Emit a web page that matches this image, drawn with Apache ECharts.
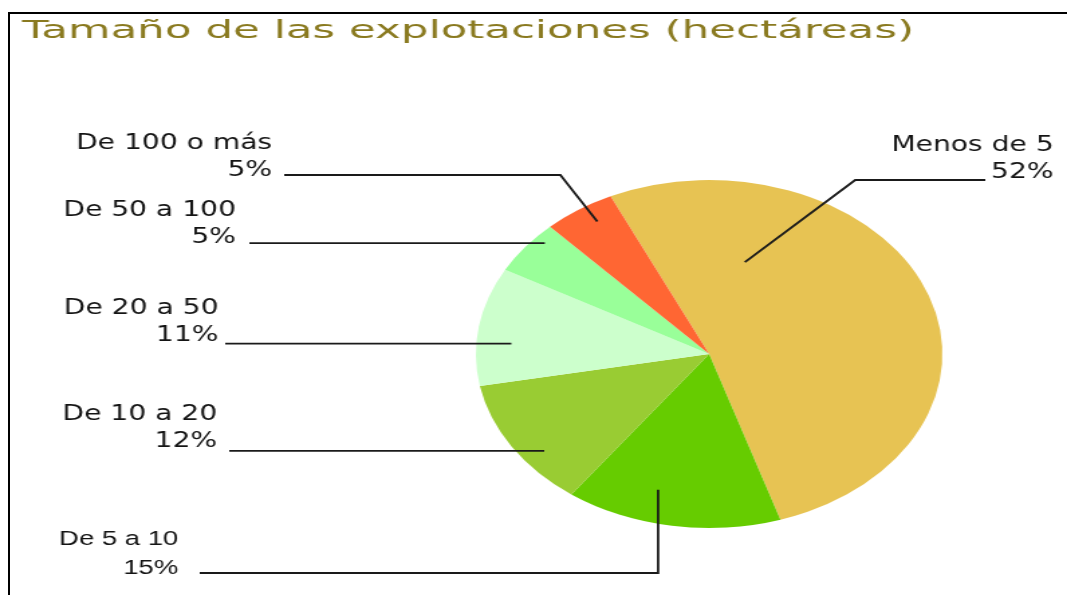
<!DOCTYPE html>
<html><head><meta charset="utf-8">
<script src="https://cdn.jsdelivr.net/npm/echarts@6/dist/echarts.min.js"></script>
<style>
html,body{margin:0;padding:0;background:#fff;overflow:hidden;}
#wrap{position:relative;width:1067px;height:595px;overflow:hidden;background:#fff;}
#frame{position:absolute;left:8px;top:12px;width:1070px;height:600px;border-top:2px solid #000;border-left:2px solid #000;}
#chart{position:absolute;left:0;top:0;width:796px;height:595px;transform:scaleX(1.3405);transform-origin:0 0;}
</style></head><body>
<div id="wrap"><div id="frame"></div><div id="chart"></div></div>
<script>
// ---- data ----
const titleText = 'Tamaño de las explotaciones (hectáreas)';
const categories = ['Menos de 5', 'De 5 a 10', 'De 10 a 20', 'De 20 a 50', 'De 50 a 100', 'De 100 o más'];
const shares = [52, 15, 12, 11, 5, 5];
const colors = ['#E7C353', '#66CC00', '#99CC33', '#CCFFCC', '#99FF99', '#FF6633'];

// ---- layout (unscaled chart space) ----
const CX = 529, CY = 354, R = 174, START = 115; // START: echarts startAngle (deg)
// t: position along slice (0..1), f: radius fraction for leader-line anchor
const labelCfg = [
  { x: 786, y: 159, lineY: 180, endX: 735, bendX: 638, t: 0.22, f: 0.55 },
  { x: 133, y: 554, lineY: 573, endX: 149, vertical: true, t: 0.62, f: 0.81, small: true },
  { x: 162, y: 428, endX: 171, t: 0.36, f: 0.90 },
  { x: 163, y: 322, endX: 168, t: 0.37, f: 0.85 },
  { x: 176, y: 224, endX: 186, t: 0.73, f: 0.95 },
  { x: 203, y: 157, lineY: 175, endX: 212, bendX: 418, t: 0.60, f: 0.90 }
];

const total = shares.reduce((a, b) => a + b, 0);
function anchorOf(i, t, f) {
  let before = 0;
  for (let k = 0; k < i; k++) before += shares[k];
  const th0 = 90 - START; // clockwise from 12 o'clock
  const th = (th0 + 360 * (before + t * shares[i]) / total) * Math.PI / 180;
  return [CX + f * R * Math.sin(th), CY - f * R * Math.cos(th)];
}

const pieBase = {
  type: 'pie',
  center: [CX, CY],
  radius: R,
  startAngle: START,
  clockwise: true,
  avoidLabelOverlap: false,
  emphasis: { disabled: true },
  silent: true
};

const chart = echarts.init(document.getElementById('chart'), null, { renderer: 'canvas' });
chart.setOption({
  animation: false,
  backgroundColor: 'transparent',
  graphic: [{
    type: 'text',
    x: 16.4, y: 31.5,
    scaleX: 1.30, scaleY: 1,
    style: {
      text: titleText,
      font: '25px "DejaVu Sans"',
      fill: '#8A7A20',
      align: 'left',
      verticalAlign: 'middle'
    }
  }],
  series: [
    Object.assign({}, pieBase, {
      z: 2,
      itemStyle: { borderWidth: 0 },
      label: { show: false },
      labelLine: { show: false },
      data: categories.map((c, i) => ({ name: c, value: shares[i], itemStyle: { color: colors[i] } }))
    }),
    Object.assign({}, pieBase, {
      z: 3,
      itemStyle: { color: 'rgba(0,0,0,0)', borderWidth: 0 },
      data: categories.map((c, i) => ({
        name: c, value: shares[i],
        label: labelCfg[i].small ? { fontFamily: 'Liberation Sans', fontSize: 20.5, lineHeight: 29 } : {}
      })),
      label: {
        show: true,
        position: 'outside',
        formatter: '{b}\n{d}%',
        fontFamily: 'DejaVu Sans',
        fontSize: 21,
        lineHeight: 27,
        color: '#141414',
        align: 'right'
      },
      labelLine: { show: true, smooth: false, lineStyle: { color: '#1a1a1a', width: 1.8, opacity: 1 } },
      labelLayout: function (p) {
        const i = p.dataIndex;
        const L = labelCfg[i];
        const a = anchorOf(i, L.t, L.f);
        let pts;
        if (L.bendX != null) pts = [[L.endX, L.lineY], [L.bendX, L.lineY], a];
        else if (L.vertical) pts = [[L.endX, L.lineY], [a[0], L.lineY], a];
        else pts = [[L.endX, a[1]], a];
        return { x: L.x, y: L.y, align: 'right', verticalAlign: 'middle', labelLinePoints: pts };
      }
    })
  ]
});
</script>
</body></html>
